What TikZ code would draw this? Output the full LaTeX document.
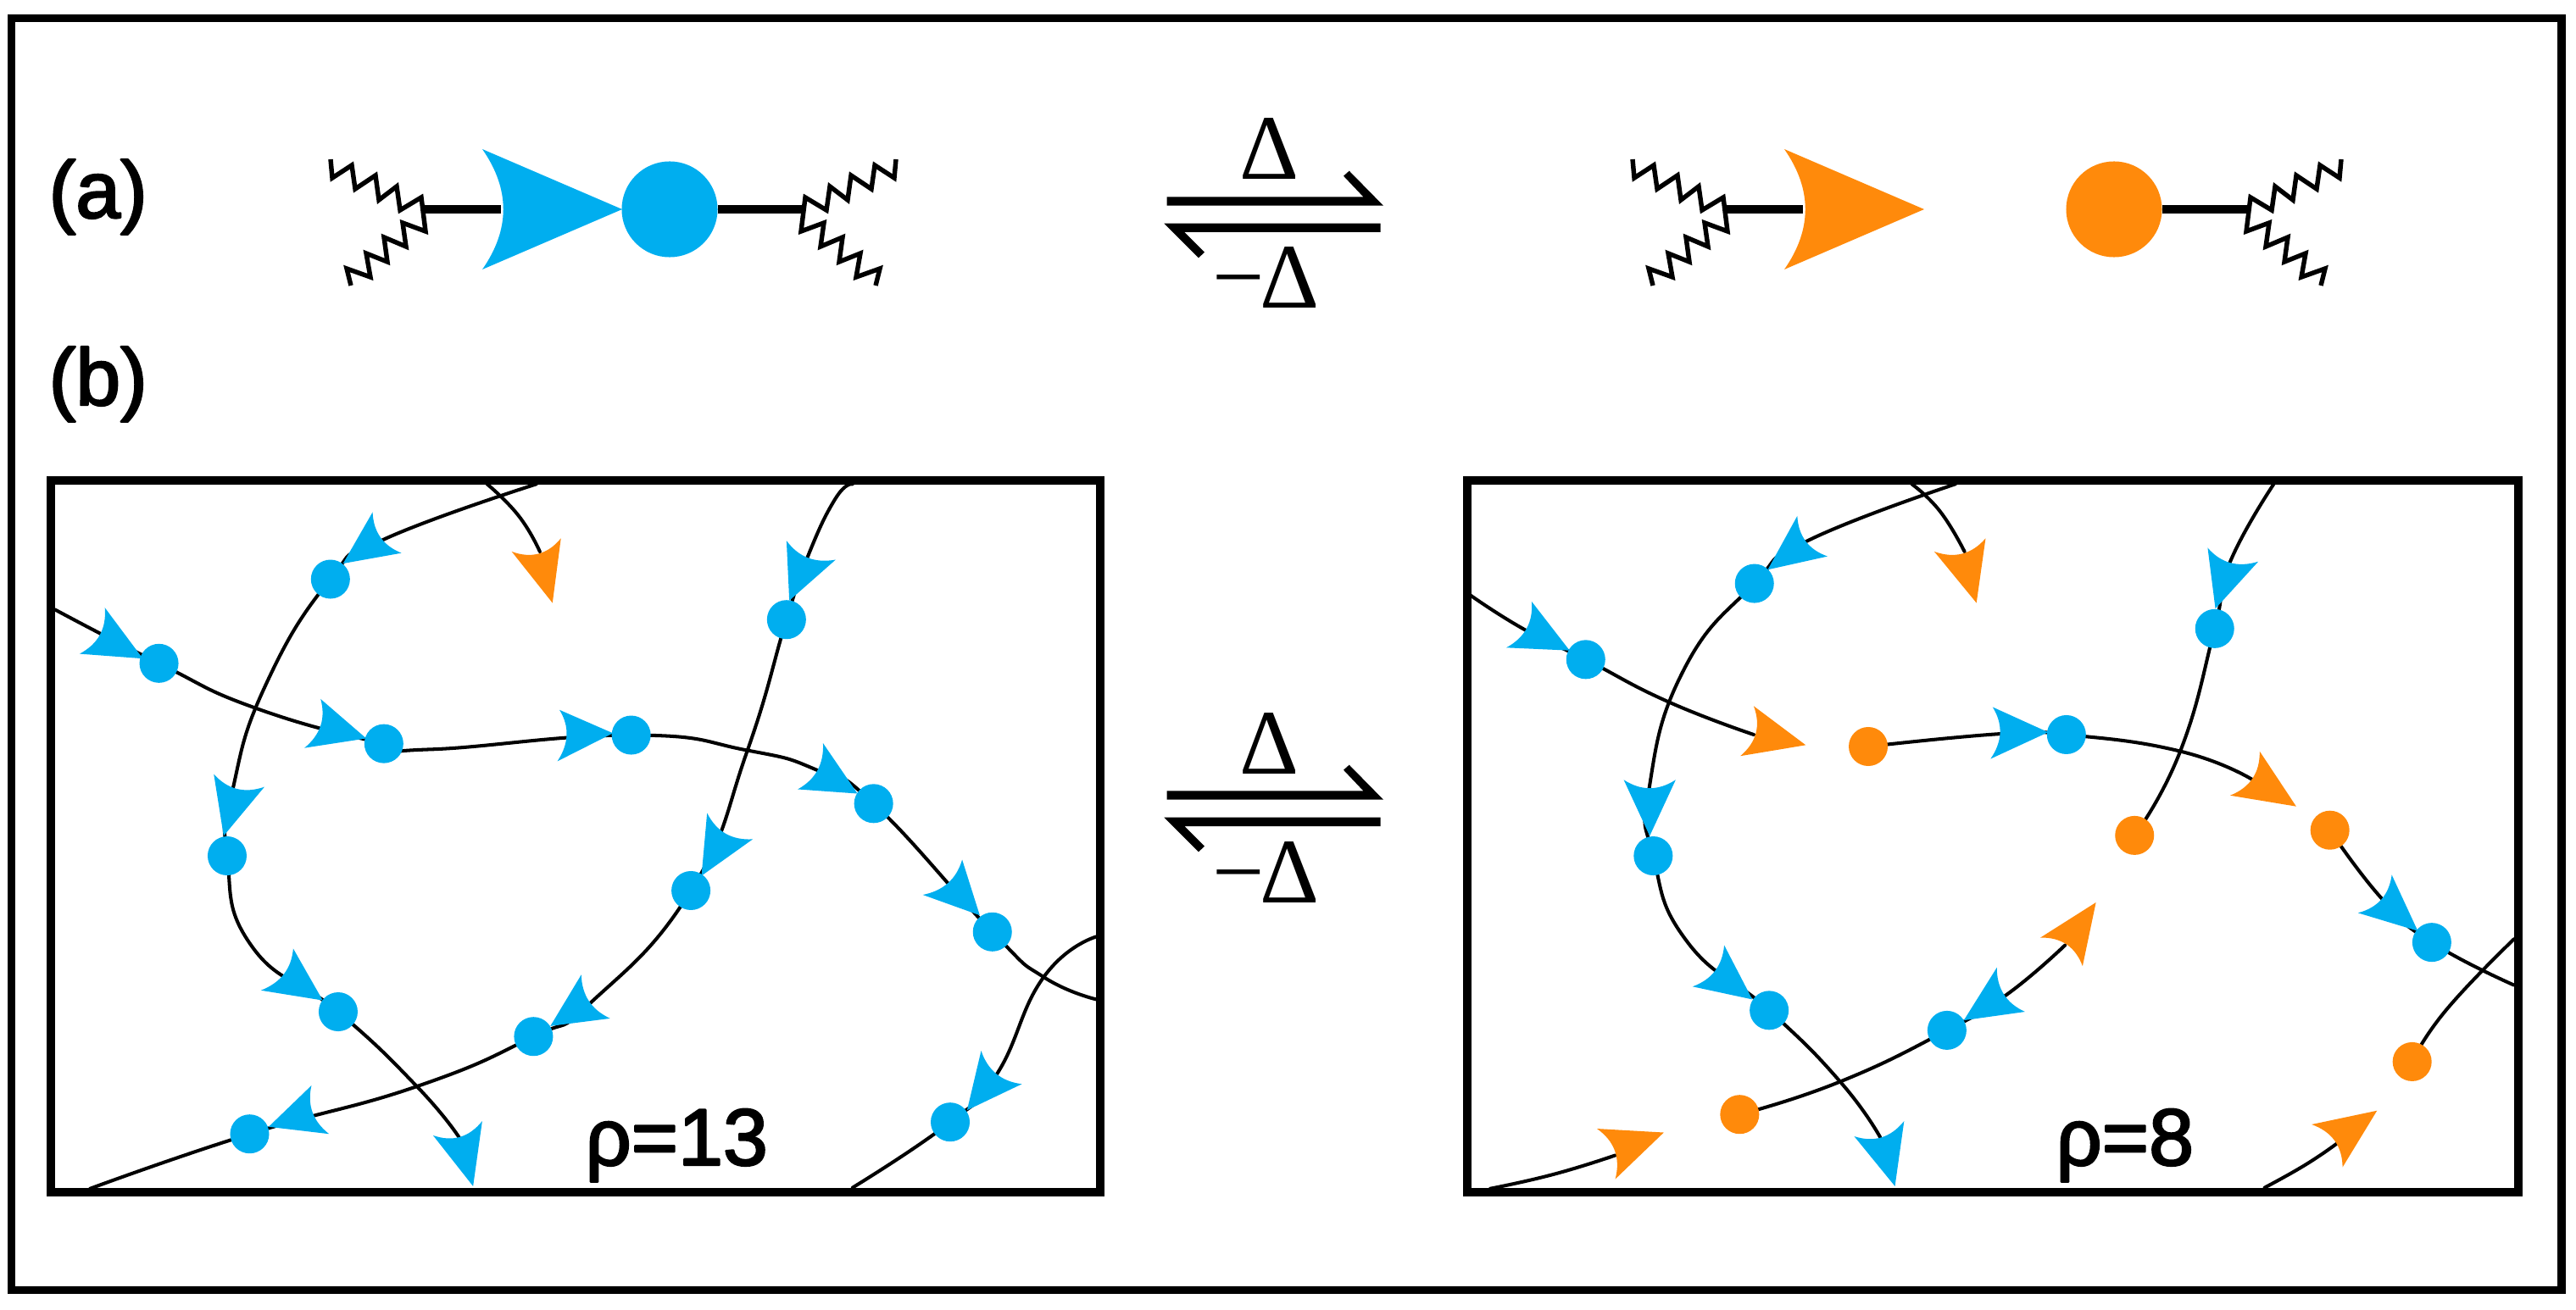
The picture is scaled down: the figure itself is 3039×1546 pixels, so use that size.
\documentclass[tikz,border=0pt]{standalone}
\usepackage{fontspec}
\setmainfont{Liberation Sans}
\newfontfamily\labfont[FakeBold=2.5]{Liberation Sans}
\newfontfamily\deltafont{Liberation Serif}
\usetikzlibrary{calc,backgrounds}
\definecolor{cyanfill}{HTML}{00AEEF}
\definecolor{orangefill}{HTML}{FF8A0B}
\tikzset{
  every picture/.style={line join=round, line cap=butt},
  every plot/.style={smooth,tension=0.85},
  frameline/.style={line width=2.7pt,line join=miter},
  bond/.style={line width=3pt},
  wavy/.style={line width=1.55pt,line join=miter},
  curve/.style={line width=1.15pt,line cap=round},
  bluedot/.style={circle,fill=cyanfill,inner sep=0pt,minimum size=0.46cm},
  orangedot/.style={circle,fill=orangefill,inner sep=0pt,minimum size=0.46cm},
  bigdot/.style={circle,inner sep=0pt,minimum size=1.13cm},
  lab/.style={font=\labfont\fontsize{27}{30}\selectfont,inner sep=0pt,anchor=base west},
  deltalab/.style={font=\deltafont\fontsize{31}{34}\selectfont,inner sep=0pt},
  wiggle/.pic={\draw[wavy] (-107,-59)--(-105,-37)--(-82,-52)--(-78,-24)--(-54,-40)--(-50,-11)--(-29,-27)--(-25,1)--(0,-14)--(5,26)--(-22,16)--(-18,44)--(-44,33)--(-40,62)--(-65,52)--(-60,80)--(-88,70)--(-83,90);},
}
\newcommand{\headfill}[4]{\coordinate (hp) at ($(#3)!.5!(#4)!.3!(#2)$);
\fill[#1] (#2)--(#3) .. controls ($(#3)!.667!(hp)$) and ($(#4)!.667!(hp)$) .. (#4) -- cycle;}
\begin{document}
\begin{tikzpicture}[x=0.01cm,y=-0.01cm]
\useasboundingbox (0,0) rectangle (3039,1546);
\draw[frameline,line width=2.6pt] (13.5,21.5) rectangle (3022,1522.5);
\node[lab] (laba) at (57,257) {(a)};
\node[lab] (labb) at (57,478) {(b)};
% row (a)
\coordinate (wa) at (497,247);
\coordinate (wb) at (950,247);
\coordinate (wc) at (2033,247);
\coordinate (wd) at (2655,247);
\draw[bond] (wa)--(591,247);
\draw[bond] (wc)--(2127,247);
\node[bigdot,fill=cyanfill] (dota) at (790,247) {};
\node[bigdot,fill=orangefill] (dotb) at (2494,247) {};
\draw[bond] (dota)--(wb);
\draw[bond] (dotb)--(wd);
\pic at (wa) {wiggle};
\pic at (wc) {wiggle};
\pic[xscale=-1] at (wb) {wiggle};
\pic[xscale=-1] at (wd) {wiggle};
\headfill{cyanfill}{734,247}{569,176}{569,318}
\headfill{orangefill}{2270,247}{2105,176}{2105,318}
% equilibrium arrows
\foreach \s/\n in {0/a,701/b}{
\begin{scope}[shift={(0,\s)}]
\fill (1376.7,232.3)--(1608.3,232.3)--(1585,207.7)--(1591.7,201.7)--(1632,242.7)--(1376.7,242.7)--cycle;
\fill (1628.7,263.7)--(1373.3,263.7)--(1414,304.3)--(1421,297.7)--(1397.3,274)--(1628.7,274)--cycle;
\node[deltalab,anchor=base] (del\n) at (1497.5,212) {Δ};
\node[deltalab,anchor=base east] (mdel\n) at (1557,364) {−\kern-0.05em Δ};
\end{scope}
}
% left panel
\begin{scope}[shift={(40,550)},xscale=0.829,yscale=0.561]
\foreach \n/\x/\y in {1/422/238,2/178/415,3/498/584,4/850/566,5/1071/323,6/1195/710,7/275/820,8/935/893,9/1364/980,10/433/1148,11/711/1200,12/307/1405,13/1304/1380}{
\node[bluedot] (l\n) at (\x,\y) {};}
\begin{pgfonlayer}{background}
\draw[curve] plot coordinates {(715,38)(497,155)(l1)(330,460)(283,680)(l7)(310,1010)(l10)(545,1305)(605,1412)};
\draw[curve] plot coordinates {(30,302)(l2)(317,510)(l3)(565,596)(l4)(1015,598)(1115,640)(l6)(l9)(1437,1075)(1512,1122)};
\draw[curve] plot coordinates {(645,38)(690,105)(720,180)};
\draw[curve] plot coordinates {(1165,38)(1140,70)(1100,195)(l5)(1015,600)(l8)(793,1128)(l11)(545,1305)(l12)(80,1520)};
\draw[curve] plot coordinates {(1512,990)(1437,1075)(1370,1280)(l13)(1165,1518)};
\end{pgfonlayer}
\foreach \tx/\ty/\ax/\ay/\bx/\by in {440/205/482/97/523/183,155/405/101/298/65/395,473/573/408/490/385/593,824/562/748/513/745/621,1075/283/1071/157/1141/197,1172/689/1123/583/1087/680,270/778/256/648/328/675,950/862/958/730/1023/785,1346/945/1321/828/1265/902,411/1124/369/1015/323/1103,735/1178/779/1070/820/1162,334/1390/395/1303/420/1405,1328/1355/1348/1230/1406/1300,625/1515/568/1408/638/1378}{
\headfill{cyanfill}{\tx,\ty}{\ax,\ay}{\bx,\by}}
\headfill{orangefill}{738,288}{680,180}{750,152}
\end{scope}
% right panel
\begin{scope}[shift={(1700,550)},xscale=0.829,yscale=0.561]
\foreach \n/\x/\y in {1/446/247,2/206/407,3/890/565,4/1101/342,5/302/820,6/1410/1002,7/467/1145,8/720/1187}{
\node[bluedot] (r\n) at (\x,\y) {};}
\foreach \n/\x/\y in {1/608/590,2/987/777,3/1265/766,4/1382/1253,5/425/1364}{
\node[orangedot] (s\n) at (\x,\y) {};}
\begin{pgfonlayer}{background}
\draw[curve] plot coordinates {(732,38)(522,157)(r1)(345,430)(296,680)(r5)(350,1000)(r7)(568,1295)(625,1412)};
\draw[curve] plot coordinates {(42,272)(120,345)(r2)(322,495)(445,565)};
\draw[curve] plot coordinates {(s1)(800,563)(r3)(1052,600)(1155,660)};
\draw[curve] plot coordinates {(s3)(1340,912)(r6)(1527,1092)};
\draw[curve] plot coordinates {(670,38)(710,95)(745,180)};
\draw[curve] plot coordinates {(1185,38)(1122,205)(r4)(1052,600)(s2)};
\draw[curve] plot coordinates {(888,1008)(805,1112)(r8)(568,1295)(s5)};
\draw[curve] plot coordinates {(70,1520)(160,1490)(248,1450)};
\draw[curve] plot coordinates {(1527,995)(1430,1145)(s4)};
\draw[curve] plot coordinates {(1172,1518)(1230,1470)(1275,1425)};
\end{pgfonlayer}
\foreach \tx/\ty/\ax/\ay/\bx/\by in {465/218/507/105/550/190,183/388/129/285/93/382,864/560/785/507/782/616,1102/300/1091/172/1163/201,297/778/260/660/334/660,1390/978/1353/860/1305/940,443/1122/403/1008/358/1095,744/1166/791/1055/831/1148,646/1515/588/1410/659/1378}{
\headfill{cyanfill}{\tx,\ty}{\ax,\ay}{\bx,\by}}
\foreach \tx/\ty/\ax/\ay/\bx/\by in {762/288/702/180/775/152,519/587/445/505/426/610,1217/716/1165/600/1123/693,932/918/853/992/913/1052,317/1402/222/1394/248/1500,1332/1356/1239/1385/1283/1475}{
\headfill{orangefill}{\tx,\ty}{\ax,\ay}{\bx,\by}}
\end{scope}
\draw[frameline] (60,567) rectangle (1298,1407);
\draw[frameline] (1731,567) rectangle (2971,1407);
\node[lab] (rhoa) at (690,1375) {ρ=13};
\node[lab] (rhob) at (2425,1375) {ρ=8};
\end{tikzpicture}
\end{document}
